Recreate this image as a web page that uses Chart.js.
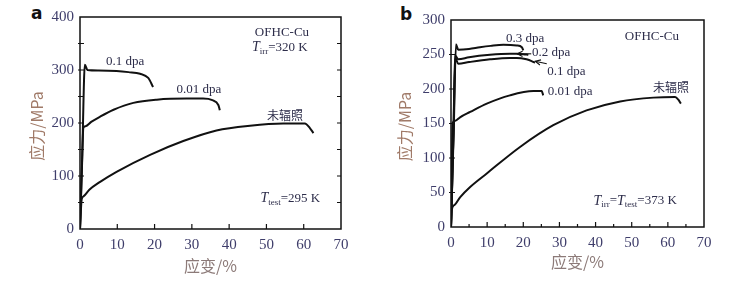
<!DOCTYPE html>
<html>
<head>
<meta charset="utf-8">
<script src="https://cdn.jsdelivr.net/npm/chart.js@4/dist/chart.umd.min.js"></script>
<style>
  body { margin: 0; background: #fff; width: 743px; height: 286px; overflow: hidden; position: relative; }
  canvas { position: absolute; top: 0; }
  #chartA { left: 0; }
  #chartB { left: 370px; }
  .tag { position: absolute; font: bold 17px "DejaVu Sans", sans-serif; color: #111; }
</style>
</head>
<body>
<div class="tag" style="left:31px;top:3px">a</div>
<div class="tag" style="left:400px;top:4px">b</div>
<canvas id="chartA" width="370" height="286"></canvas>
<canvas id="chartB" width="373" height="286"></canvas>
<script>
// panel a: T_irr = 320 K, T_test = 295 K
const strainA_01 = [0, 0.6, 1.3, 2, 5, 9.8, 13, 16.1, 18.3, 19.6];
const stressA_01 = [0, 140, 310, 300, 299, 298, 296, 293, 285, 268];
const strainA_001 = [0, 0.5, 0.9, 1.5, 3, 5.4, 9, 14.3, 20.6, 28.6, 33, 35.5, 37.1, 37.5];
const stressA_001 = [0, 110, 191, 194, 202, 212, 225, 238, 244, 246, 246, 243, 234, 224];
const strainA_un = [0, 0.45, 1, 2.5, 5.4, 9.8, 18.8, 27.7, 36.6, 45.6, 54.5, 60.3, 61.7, 62.6];
const stressA_un = [0, 56, 62, 74, 89, 108, 140, 166, 186, 195, 199, 199, 190, 181];

// panel b: T_irr = T_test = 373 K
const strainB_03 = [0, 0.8, 1.38, 2, 5, 8, 11, 14.5, 18.2, 19.6, 20];
const stressB_03 = [0, 150, 265, 257, 258, 260.5, 262.5, 264, 263, 260.5, 256];
const strainB_02 = [0, 0.7, 1.1, 2, 5, 10.8, 16.3, 18.2, 20, 21.4];
const stressB_02 = [0, 140, 249, 243, 246, 249.5, 251, 251, 250.5, 249.5];
const strainB_01 = [0, 0.7, 1.2, 2, 5, 10.8, 16.3, 18.2, 20.9, 22.3, 23.2];
const stressB_01 = [0, 140, 245, 236.5, 239, 243, 245, 245, 243, 240.5, 238];
const strainB_001 = [0, 0.46, 1.2, 2.5, 5.3, 9.9, 16.3, 22.8, 25.1, 25.5];
const stressB_001 = [0, 151, 154, 159, 166.7, 178.8, 190.8, 197, 197, 190.8];
const strainB_un = [0, 0.2, 1, 2.5, 5.3, 9.9, 19.1, 28.3, 37.5, 46.8, 56, 62, 62.9, 63.6];
const stressB_un = [0, 25, 32, 43, 58, 77.6, 116, 147.5, 169, 182, 187.5, 188.4, 184.6, 178.8];

const xTicks = [0, 10, 20, 30, 40, 50, 60, 70];
const yTicksA = [0, 100, 200, 300, 400];
const yTicksB = [0, 50, 100, 150, 200, 250, 300];

function pts(xs, ys) {
  return xs.map((x, i) => ({ x: x, y: ys[i] }));
}

function curve(xs, ys) {
  return {
    data: pts(xs, ys),
    borderColor: '#111',
    borderWidth: 2,
    pointRadius: 0,
    fill: false,
    cubicInterpolationMode: 'monotone'
  };
}

const serif = '"Liberation Serif", "DejaVu Serif", serif';
const cjk = '"Noto Sans CJK SC", sans-serif';

// draws text with an italic T and a subscript: parts = [[text, kind]]
function richText(ctx, x, y, parts) {
  let cx = x;
  parts.forEach(p => {
    const txt = p[0], kind = p[1];
    if (kind === 'T') ctx.font = 'italic 14px ' + serif;
    else if (kind === 'sub') ctx.font = '9px ' + serif;
    else ctx.font = '13px ' + serif;
    ctx.fillText(txt, cx, kind === 'sub' ? y + 4 : y);
    cx += ctx.measureText(txt).width;
  });
}

const framePlugin = {
  id: 'frame',
  afterDraw(chart, args, opts) {
    const { ctx, chartArea: a, scales: { x, y } } = chart;
    ctx.save();
    ctx.strokeStyle = '#111';
    ctx.lineWidth = 1.5;
    ctx.strokeRect(a.left, a.top, a.right - a.left, a.bottom - a.top);
    ctx.lineWidth = 1.2;
    ctx.beginPath();
    opts.xMinor.forEach(v => {
      const px = x.getPixelForValue(v);
      const len = v % 10 === 0 ? 5 : 3;
      ctx.moveTo(px, a.bottom); ctx.lineTo(px, a.bottom - len);
    });
    opts.yLeft.forEach(v => {
      const py = y.getPixelForValue(v);
      ctx.moveTo(a.left - 2, py); ctx.lineTo(a.left + 4, py);
    });
    opts.yRight.forEach(v => {
      const py = y.getPixelForValue(v);
      ctx.moveTo(a.right, py); ctx.lineTo(a.right - 4, py);
    });
    ctx.stroke();

    // arrows
    (opts.arrows || []).forEach(ar => {
      const x0 = x.getPixelForValue(ar[0]), y0 = y.getPixelForValue(ar[1]);
      const x1 = x.getPixelForValue(ar[2]), y1 = y.getPixelForValue(ar[3]);
      ctx.lineWidth = 1.1;
      ctx.beginPath(); ctx.moveTo(x0, y0); ctx.lineTo(x1, y1); ctx.stroke();
      const ang = Math.atan2(y1 - y0, x1 - x0);
      ctx.beginPath();
      ctx.moveTo(x1 - 6 * Math.cos(ang - 0.45), y1 - 6 * Math.sin(ang - 0.45));
      ctx.lineTo(x1, y1);
      ctx.lineTo(x1 - 6 * Math.cos(ang + 0.45), y1 - 6 * Math.sin(ang + 0.45));
      ctx.stroke();
    });

    // curve labels
    ctx.fillStyle = '#2d2d4a';
    ctx.textBaseline = 'middle';
    opts.labels.forEach(l => {
      ctx.font = l.cjk ? '12px ' + cjk : '13px ' + serif;
      ctx.textAlign = l.align || 'center';
      ctx.fillText(l.text, x.getPixelForValue(l.x), y.getPixelForValue(l.y));
    });
    ctx.textAlign = 'left';
    opts.rich.forEach(r => {
      richText(ctx, x.getPixelForValue(r.x), y.getPixelForValue(r.y), r.parts);
    });

    // axis titles
    ctx.textAlign = 'center';
    ctx.fillStyle = '#8c7a78';
    ctx.font = '16px ' + cjk;
    ctx.fillText('应变/%', (a.left + a.right) / 2, a.bottom + opts.xTitleGap);
    ctx.save();
    ctx.translate(a.left - opts.yTitleGap, (a.top + a.bottom) / 2 + 3);
    ctx.rotate(-Math.PI / 2);
    ctx.fillStyle = '#a07a68';
    ctx.fillText('应力/MPa', 0, 0);
    ctx.restore();
    ctx.restore();
  }
};

function makePanel(id, datasets, yMax, yStep, pad, yWidth, xHeight, frame) {
  return new Chart(document.getElementById(id), {
    type: 'line',
    data: { datasets: datasets },
    options: {
      responsive: false,
      animation: false,
      layout: { padding: pad },
      plugins: { legend: { display: false }, tooltip: { enabled: false }, frame: frame },
      scales: {
        x: {
          type: 'linear', min: 0, max: 70,
          afterFit: s => { s.height = xHeight; },
          afterBuildTicks: s => { s.ticks = xTicks.map(v => ({ value: v })); },
          grid: { display: false, drawTicks: false },
          border: { display: false },
          ticks: { color: '#3e3d6a', padding: 7, maxRotation: 0, font: { family: serif, size: 15 } }
        },
        y: {
          type: 'linear', min: 0, max: yMax,
          afterFit: s => { s.width = yWidth; },
          ticks: { stepSize: yStep, color: '#3e3d6a', padding: 6, font: { family: serif, size: 15 } },
          grid: { display: false, drawTicks: false },
          border: { display: false }
        }
      }
    },
    plugins: [framePlugin]
  });
}

makePanel('chartA', [
  curve(strainA_01, stressA_01),
  curve(strainA_001, stressA_001),
  curve(strainA_un, stressA_un)
], 400, 100, { top: 17, right: 29, left: 0, bottom: 0 }, 80, 57, {
  xMinor: [10, 20, 30, 40, 50, 60],
  yLeft: [50, 100, 150, 200, 250, 300, 350],
  yRight: [50, 100, 150, 200, 250, 300, 350],
  xTitleGap: 37,
  yTitleGap: 43,
  labels: [
    { text: '0.1 dpa', x: 12.1, y: 316 },
    { text: '0.01 dpa', x: 31.9, y: 263 },
    { text: '未辐照', x: 55, y: 215, cjk: true },
    { text: 'OFHC-Cu', x: 46.9, y: 371, align: 'left' }
  ],
  rich: [
    { x: 46.1, y: 342, parts: [['T', 'T'], ['irr', 'sub'], ['=320 K', '']] },
    { x: 48.4, y: 57, parts: [['T', 'T'], ['test', 'sub'], ['=295 K', '']] }
  ]
});

makePanel('chartB', [
  curve(strainB_03, stressB_03),
  curve(strainB_02, stressB_02),
  curve(strainB_01, stressB_01),
  curve(strainB_001, stressB_001),
  curve(strainB_un, stressB_un)
], 300, 50, { top: 20, right: 39, left: 0, bottom: 0 }, 81, 59, {
  xMinor: [5, 10, 15, 20, 25, 30, 35, 40, 45, 50, 55, 60, 65],
  yLeft: [50, 100, 150, 200, 250],
  yRight: [],
  xTitleGap: 35,
  yTitleGap: 46,
  arrows: [[22.2, 251, 18.3, 251], [26.5, 236.6, 23.3, 240.2]],
  labels: [
    { text: '0.3 dpa', x: 20.5, y: 273 },
    { text: '0.2 dpa', x: 22.4, y: 253, align: 'left' },
    { text: '0.1 dpa', x: 26.6, y: 225.5, align: 'left' },
    { text: '0.01 dpa', x: 26.8, y: 196.6, align: 'left' },
    { text: '未辐照', x: 60.9, y: 202, cjk: true },
    { text: 'OFHC-Cu', x: 48.1, y: 276, align: 'left' }
  ],
  rich: [
    { x: 39.4, y: 37.6, parts: [['T', 'T'], ['irr', 'sub'], ['=', ''], ['T', 'T'], ['test', 'sub'], ['=373 K', '']] }
  ]
});
</script>
</body>
</html>
